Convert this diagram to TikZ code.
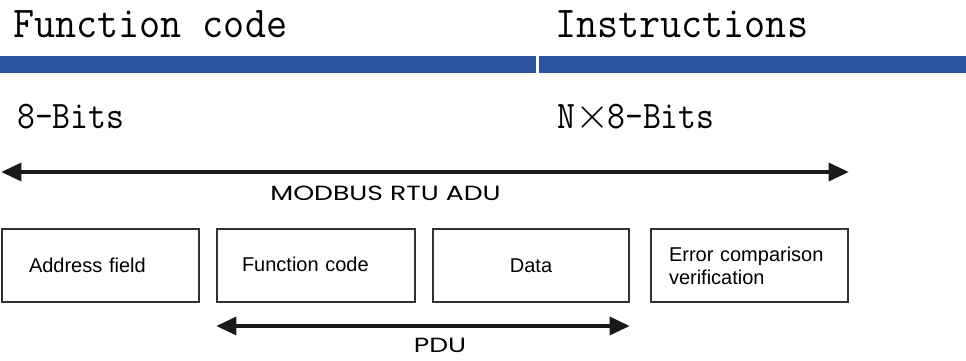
\documentclass[tikz,border=0pt]{standalone}
\usepackage{fontspec}
\usepackage{graphicx}
\setmainfont{Liberation Sans}
\newfontfamily\adufont{Poppins}
\usetikzlibrary{arrows.meta}
\definecolor{barblue}{RGB}{46,84,160}
\begin{document}
\begin{tikzpicture}[x=1pt,y=-1pt,
    field/.style={draw=black!80,line width=1.4pt,minimum width=197pt,minimum height=73pt,
      font=\fontsize{20}{23}\selectfont},
    span/.style={{Triangle[length=20pt 0,width=18pt 0]}-{Triangle[length=20pt 0,width=18pt 0]},
      line width=3.2pt,draw=black!90},
    head/.style={anchor=base west,inner sep=0pt,font=\ttfamily\fontsize{44}{44}\selectfont},
    bits/.style={anchor=base west,inner sep=0pt,font=\ttfamily\fontsize{39}{39}\selectfont},
    spanlabel/.style={anchor=base,inner sep=0pt,font=\adufont\fontsize{20.5}{21}\selectfont}]
    \useasboundingbox (0,0) rectangle (966,360);
    \node[head] (fc) at (13,37) {\scalebox{0.93}[1]{Function code}};
    \node[head] (ins) at (555,37) {\scalebox{0.93}[1]{Instructions}};
    \fill[barblue] (0,56) rectangle (536,73);
    \fill[barblue] (539,56) rectangle (966,73);
    \node[bits] (b8) at (17,128) {\scalebox{0.89}[1]{8-Bits}};
    \node[bits] (bn) at (557,128) {\scalebox{0.89}[1]{N}\scalebox{4.4}{\fontsize{10}{10}\selectfont$\times$}\kern-2pt\scalebox{0.89}[1]{8-Bits}};

    \node[field,text width=143pt,inner xsep=27pt,align=left] (addr) at (100.5,265.5) {Address field};
    \node[field,text width=148pt,inner xsep=25pt,align=left] (func) at (316,265.5) {\raisebox{3pt}{Function code}};
    \node[field,minimum width=196pt,align=center] (data) at (531,265.5) {Data};
    \node[field,text width=161pt,inner xsep=18pt,align=left] (err) at (749.5,265.5) {Error comparison\\verification};

    \coordinate (adu) at (0,172);
    \draw[span] (addr.west |- adu) -- (err.east |- adu);
    \node[spanlabel] (adulbl) at (385.5,200) {\scalebox{1.3}[1]{MODBUS RTU ADU}};
    \coordinate (pdu) at (0,326);
    \draw[span] (func.west |- pdu) -- (data.east |- pdu);
    \node[spanlabel] (pdulbl) at (440,352) {\scalebox{1.3}[1]{PDU}};
\end{tikzpicture}
\end{document}
